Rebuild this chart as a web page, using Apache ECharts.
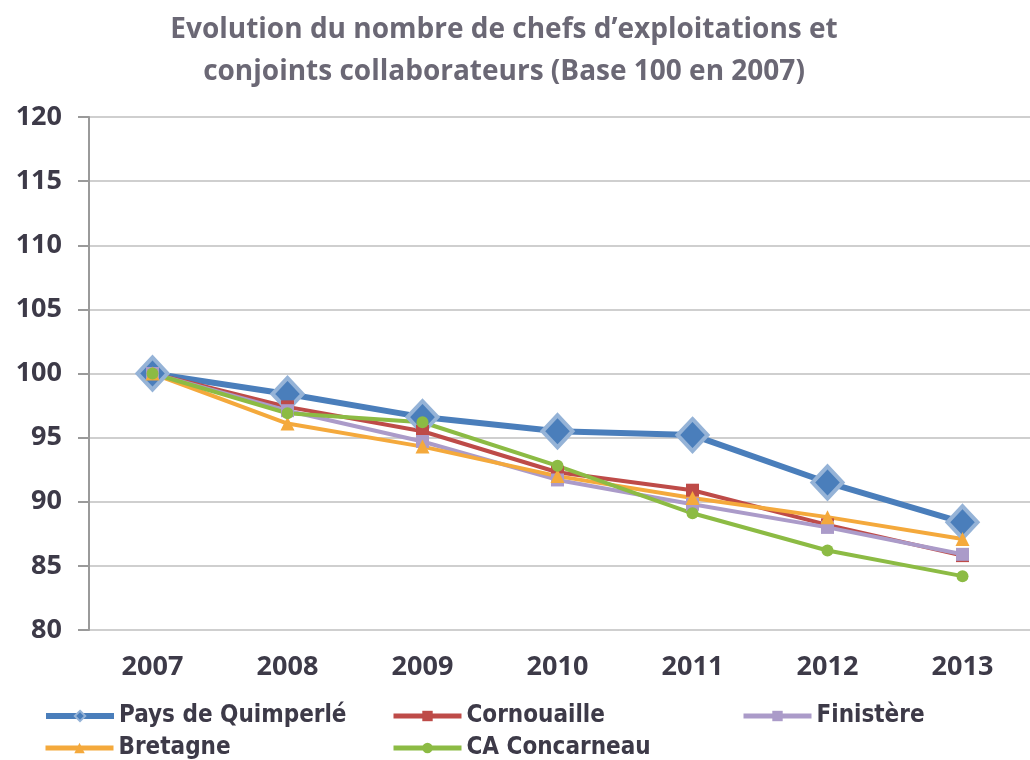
<!DOCTYPE html>
<html>
<head>
<meta charset="utf-8">
<script src="https://cdn.jsdelivr.net/npm/echarts@6/dist/echarts.min.js"></script>
<style>
html,body{margin:0;padding:0;background:#fff;}
#container{width:1030px;height:760px;}
</style>
</head>
<body>
<div id="container"></div>
<script>
var years = ['2007', '2008', '2009', '2010', '2011', '2012', '2013'];
var yTicks = [80, 85, 90, 95, 100, 105, 110, 115, 120];
var quimperle = [100, 98.4, 96.6, 95.5, 95.2, 91.5, 88.4];
var cornouaille = [100, 97.4, 95.5, 92.3, 90.9, 88.2, 85.8];
var finistere = [100, 97.1, 94.7, 91.7, 89.8, 88.0, 85.9];
var bretagne = [100, 96.1, 94.3, 92.0, 90.3, 88.8, 87.1];
var concarneau = [100, 96.9, 96.2, 92.8, 89.1, 86.2, 84.2];

var textColor = '#3d3a48';
var legendFont = {fontFamily: "'DejaVu Sans Condensed', Roboto, sans-serif", fontWeight: 'bold', fontSize: 24, color: textColor};

// une legende par serie pour placer chaque entree comme dans l'original
function legendAt(name, left, top, lw){
	return {
		data: [name], left: left, top: top, orient: 'horizontal',
		itemWidth: 68, itemHeight: 13, itemGap: 4,
		lineStyle: {width: lw},
		textStyle: legendFont
	};
}

var chart = echarts.init(document.getElementById('container'));
chart.setOption({
	backgroundColor: '#fff',
	animation: false,
	title: {
		text: 'Evolution du nombre de chefs d\u2019exploitations et\nconjoints collaborateurs (Base 100 en 2007)',
		left: 499, top: 4, textAlign: 'center',
		textStyle: {fontFamily: 'Open Sans', fontWeight: 'bold', fontSize: 28, lineHeight: 42, color: '#6b6875'}
	},
	legend: [
		legendAt('Pays de Quimperlé', 38, 699, 6),
		legendAt('Cornouaille', 386, 699, 5),
		legendAt('Finistère', 736, 699, 5),
		legendAt('Bretagne', 38, 731, 5),
		legendAt('CA Concarneau', 386, 731, 5)
	],
	grid: {left: 85, top: 117, width: 951, height: 513},
	xAxis: {
		type: 'category',
		data: years,
		boundaryGap: true,
		axisLine: {show: false},
		axisTick: {show: false},
		axisLabel: {margin: 24, fontFamily: 'Open Sans', fontWeight: 'bold', fontSize: 27, color: textColor}
	},
	yAxis: {
		type: 'value',
		min: yTicks[0], max: yTicks[yTicks.length - 1], interval: 5,
		offset: -4,
		axisLine: {show: true, lineStyle: {color: '#9a9a9a', width: 2}},
		axisTick: {show: true, length: 11, lineStyle: {color: '#9a9a9a', width: 2}},
		axisLabel: {margin: 27, fontFamily: 'Open Sans', fontWeight: 'bold', fontSize: 27, color: textColor},
		splitLine: {lineStyle: {color: '#cfcfcf', width: 2}}
	},
	series: [
		{name: 'Pays de Quimperlé', type: 'line', data: quimperle, color: '#4a7ebb',
			lineStyle: {width: 6, color: '#4a7ebb'}, symbol: 'diamond', symbolSize: [30, 32],
			itemStyle: {color: '#4a7ebb', borderColor: '#95b3d7', borderWidth: 4}},
		{name: 'Cornouaille', type: 'line', data: cornouaille, color: '#be4b48',
			lineStyle: {width: 4, color: '#be4b48'}, symbol: 'rect', symbolSize: 13,
			itemStyle: {color: '#be4b48'}},
		{name: 'Finistère', type: 'line', data: finistere, color: '#ab9bc9',
			lineStyle: {width: 4, color: '#ab9bc9'}, symbol: 'rect', symbolSize: 13,
			itemStyle: {color: '#ab9bc9'}},
		{name: 'Bretagne', type: 'line', data: bretagne, color: '#f4a93c',
			lineStyle: {width: 4, color: '#f4a93c'}, symbol: 'triangle', symbolSize: 14,
			itemStyle: {color: '#f4a93c'}},
		{name: 'CA Concarneau', type: 'line', data: concarneau, color: '#8cbb44',
			lineStyle: {width: 4, color: '#8cbb44'}, symbol: 'circle', symbolSize: 12,
			itemStyle: {color: '#8cbb44'}}
	]
});
</script>
</body>
</html>
